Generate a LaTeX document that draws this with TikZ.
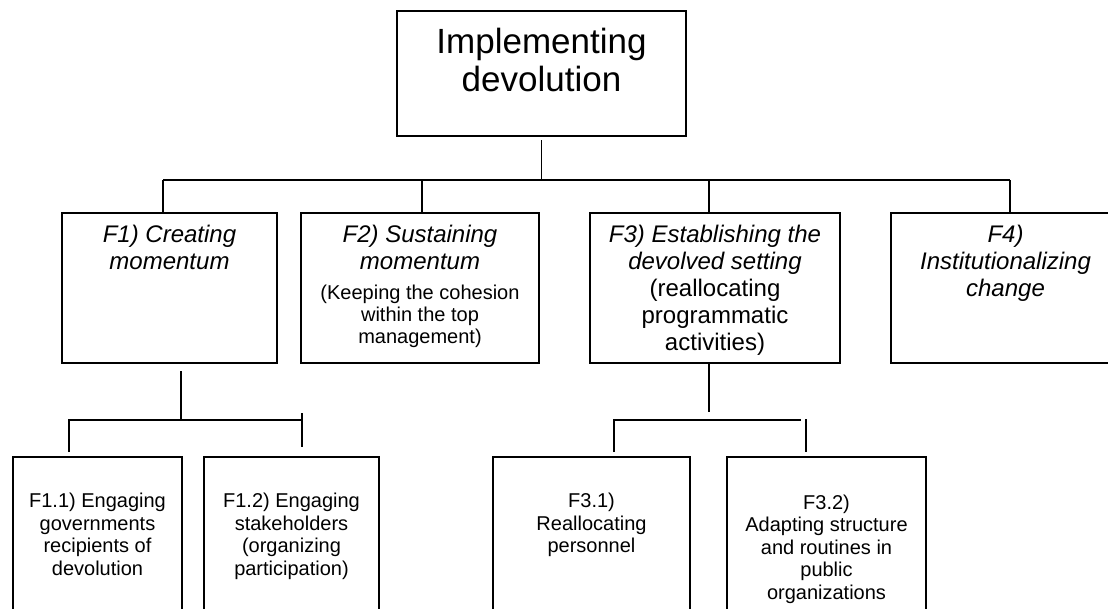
\documentclass[tikz,border=0pt]{standalone}
\usepackage{fontspec}
\setmainfont{Liberation Sans}
\usetikzlibrary{positioning}
\newcommand{\subline}{\fontsize{20}{22.5}\selectfont\upshape}

\begin{document}
\begin{tikzpicture}[x=1pt, y=-1pt, line width=1.5pt,
  box/.style={draw, line width=1.8pt, anchor=north west, outer sep=0pt, inner sep=0pt},
  head/.style={anchor=north, align=center, inner sep=0pt, font=\fontsize{24}{27}\selectfont},
  leaf/.style={anchor=north, align=center, inner sep=0pt, font=\fontsize{20}{22.5}\selectfont}]
  \useasboundingbox (0,0) rectangle (1108,608);
  % Top box
  \node[box, minimum width=289pt, minimum height=125pt] (impl) at (397,11) {};
  \node[anchor=north, align=center, inner sep=0pt, font=\fontsize{35}{38}\selectfont,
    below=16pt of impl.north] (impl-t) {Implementing\\devolution};
  % Four fields
  \node[box, minimum width=215pt, minimum height=150pt] (f1) at (62,213) {};
  \node[box, minimum width=238pt, minimum height=150pt] (f2) at (301,213) {};
  \node[box, minimum width=250pt, minimum height=150pt] (f3) at (590,213) {};
  \node[box, minimum width=229pt, minimum height=150pt] (f4) at (891,213) {};
  \node[head, below=11.5pt of f1.north] (f1-t) {\itshape F1) Creating\\\itshape momentum};
  \node[head, below=11.5pt of f2.north] (f2-t) {\itshape F2) Sustaining\\\itshape momentum\\[3pt]
    \subline(Keeping the cohesion\\[-5pt]\subline within the top\\[-5pt]\subline management)};
  \node[head, below=11.5pt of f3.north] (f3-t) {\itshape F3) Establishing the\\\itshape devolved setting\\
    \upshape(reallocating\\\upshape programmatic\\\upshape activities)};
  \node[head, below=11.5pt of f4.north] (f4-t) {\itshape F4)\\\itshape Institutionalizing\\\itshape change};
  % Sub-fields
  \node[box, minimum width=169pt, minimum height=165pt] (f11) at (13,457) {};
  \node[box, minimum width=175pt, minimum height=165pt] (f12) at (204,457) {};
  \node[box, minimum width=197pt, minimum height=165pt] (f31) at (493,457) {};
  \node[box, minimum width=199pt, minimum height=165pt] (f32) at (727,457) {};
  \node[leaf, below=35.5pt of f11.north] (f11-t) {F1.1) Engaging\\governments\\recipients of\\devolution};
  \node[leaf, below=35.5pt of f12.north] (f12-t) {F1.2) Engaging\\stakeholders\\(organizing\\participation)};
  \node[leaf, below=35.5pt of f31.north] (f31-t) {F3.1)\\Reallocating\\personnel};
  \node[leaf, below=37pt of f32.north] (f32-t) {F3.2)\\Adapting structure\\and routines in\\public\\organizations};
  % Connectors, first level
  \coordinate (d1) at (163,180);
  \coordinate (d2) at (422,180);
  \coordinate (d3) at (709,180);
  \coordinate (d4) at (1010,180);
  \draw ([yshift=-4pt]impl.south) -- (impl.south |- d1);
  \draw (d1) -- (d4);
  \foreach \d/\f in {d1/f1, d2/f2, d3/f3, d4/f4}
    \draw (\d) -- (\d |- \f.north);
  % Connectors under F1
  \coordinate (j1) at (181,420);
  \coordinate (l1) at (69,420);
  \coordinate (r1) at (301,420);
  \coordinate (t1) at (302,413);
  \draw (f1.south -| j1) ++(0,8) -- (j1);
  \draw (l1 |- f11.north) ++(0,-5) -- (l1) -- (r1);
  \draw (t1) -- ++(0,34);
  % Connectors under F3
  \coordinate (j3) at (709,412);
  \coordinate (l3) at (614,420);
  \coordinate (r3) at (801,420);
  \coordinate (t3) at (806,419);
  \draw (f3.south -| j3) -- (j3);
  \draw (l3 |- f31.north) ++(0,-5) -- (l3) -- (r3);
  \draw (t3) -- ++(0,33);
\end{tikzpicture}
\end{document}
